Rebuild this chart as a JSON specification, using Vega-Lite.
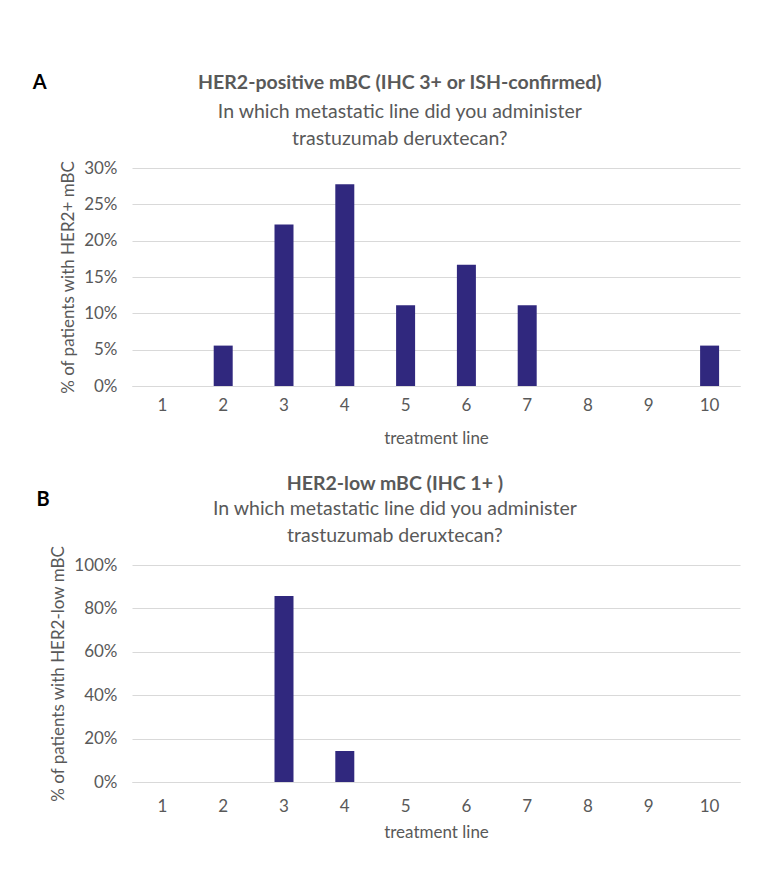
{
  "$schema": "https://vega.github.io/schema/vega-lite/v6.json",
  "background": "white",
  "padding": {"left": 32, "top": 73, "right": 8, "bottom": 5},
  "spacing": 28,
  "config": {
    "font": "Lato",
    "view": {"stroke": null},
    "concat": {"spacing": 0},
    "axis": {
      "labelColor": "#595959",
      "titleColor": "#595959",
      "labelFontSize": 17,
      "titleFontSize": 17,
      "titleFontWeight": "normal",
      "gridColor": "#d9d9d9",
      "domainColor": "#d9d9d9",
      "ticks": false
    },
    "title": {"color": "#595959"}
  },
  "vconcat": [
    {
      "title": {"text": "A", "orient": "left", "angle": 0, "anchor": "end", "baseline": "top", "align": "left", "fontSize": 20, "fontWeight": "bold", "color": "#000000", "offset": 13, "dy": 0},
      "vconcat": [
        {
          "width": 608,
          "height": 218,
          "title": {
            "text": "HER2-positive mBC (IHC 3+ or ISH-confirmed)",
            "subtitle": ["In which metastatic line did you administer", "trastuzumab deruxtecan?"],
            "frame": "bounds",
            "anchor": "middle",
            "fontSize": 19.5,
            "fontWeight": "bold",
            "subtitleFontSize": 19.5,
            "subtitleColor": "#595959",
            "subtitleLineHeight": 27,
            "subtitlePadding": 9,
            "offset": 10
          },
          "data": {"values": [
            {"line": "1", "pct": 0},
            {"line": "2", "pct": 0.0556},
            {"line": "3", "pct": 0.2222},
            {"line": "4", "pct": 0.2778},
            {"line": "5", "pct": 0.1111},
            {"line": "6", "pct": 0.1667},
            {"line": "7", "pct": 0.1111},
            {"line": "8", "pct": 0},
            {"line": "9", "pct": 0},
            {"line": "10", "pct": 0.0556}
          ]},
          "mark": {"type": "bar", "color": "#30287e"},
          "encoding": {
            "x": {"field": "line", "type": "ordinal", "sort": null,
                  "scale": {"paddingInner": 0.6875, "paddingOuter": 0.34375},
                  "axis": {"labelAngle": 0, "labelPadding": 11, "title": "treatment line", "titlePadding": 17}},
            "y": {"field": "pct", "type": "quantitative",
                  "scale": {"domain": [0, 0.3], "nice": false},
                  "axis": {"format": ".0%", "values": [0, 0.05, 0.1, 0.15, 0.2, 0.25, 0.3], "domain": false, "labelPadding": 15, "title": "% of patients with HER2+ mBC", "titlePadding": 6}}
          }
        }
      ]
    },
    {
      "title": {"text": "B", "orient": "left", "angle": 0, "anchor": "end", "baseline": "top", "align": "left", "fontSize": 20, "fontWeight": "bold", "color": "#000000", "offset": 0, "dy": 16},
      "vconcat": [
        {
          "width": 608,
          "height": 217,
          "title": {
            "text": "HER2-low mBC (IHC 1+ )",
            "subtitle": ["In which metastatic line did you administer", "trastuzumab deruxtecan?"],
            "frame": "bounds",
            "anchor": "middle",
            "fontSize": 19.5,
            "fontWeight": "bold",
            "subtitleFontSize": 19.5,
            "subtitleColor": "#595959",
            "subtitleLineHeight": 27,
            "subtitlePadding": 5,
            "offset": -1
          },
          "data": {"values": [
            {"line": "1", "pct": 0},
            {"line": "2", "pct": 0},
            {"line": "3", "pct": 0.8571},
            {"line": "4", "pct": 0.1429},
            {"line": "5", "pct": 0},
            {"line": "6", "pct": 0},
            {"line": "7", "pct": 0},
            {"line": "8", "pct": 0},
            {"line": "9", "pct": 0},
            {"line": "10", "pct": 0}
          ]},
          "mark": {"type": "bar", "color": "#30287e"},
          "encoding": {
            "x": {"field": "line", "type": "ordinal", "sort": null,
                  "scale": {"paddingInner": 0.6875, "paddingOuter": 0.34375},
                  "axis": {"labelAngle": 0, "labelPadding": 16, "title": "treatment line", "titlePadding": 10}},
            "y": {"field": "pct", "type": "quantitative",
                  "scale": {"domain": [0, 1], "nice": false},
                  "axis": {"format": ".0%", "values": [0, 0.2, 0.4, 0.6, 0.8, 1], "domain": false, "labelPadding": 15, "title": "% of patients with HER2-low mBC", "titlePadding": 6}}
          }
        }
      ]
    }
  ]
}
